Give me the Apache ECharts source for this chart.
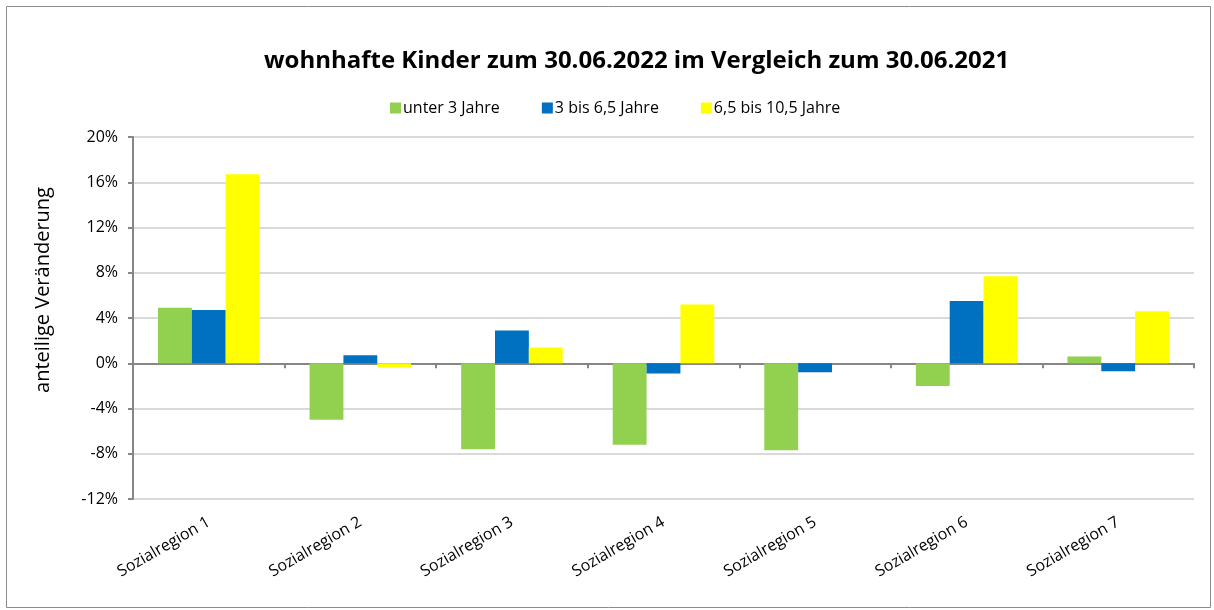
<!DOCTYPE html>
<html>
<head>
<meta charset="utf-8">
<script src="https://cdn.jsdelivr.net/npm/echarts@6/dist/echarts.min.js"></script>
<style>
html,body{margin:0;padding:0;background:#fff;}
#c{width:1214px;height:610px;}
</style>
</head>
<body>
<div id="c"></div>
<script>
const categories = ['Sozialregion 1','Sozialregion 2','Sozialregion 3','Sozialregion 4','Sozialregion 5','Sozialregion 6','Sozialregion 7'];
const seriesNames = ['unter 3 Jahre','3 bis 6,5 Jahre','6,5 bis 10,5 Jahre'];
const under3 = [4.9, -5.0, -7.6, -7.2, -7.7, -2.0, 0.6];
const from3to65 = [4.7, 0.7, 2.9, -0.9, -0.8, 5.5, -0.7];
const from65to105 = [16.7, -0.35, 1.4, 5.2, 0, 7.7, 4.6];
const titleText = 'wohnhafte Kinder zum 30.06.2022 im Vergleich zum 30.06.2021';
const yAxisName = 'anteilige Veränderung';
const colors = ['#92d050','#0070c0','#ffff00'];
const fontFamily = '"Open Sans", "Noto Sans", sans-serif';

const chart = echarts.init(document.getElementById('c'), null, {renderer:'canvas'});
const values = [under3, from3to65, from65to105];
chart.setOption({
  animation:false,
  textStyle:{fontFamily:fontFamily},
  graphic:[{
    type:'rect', silent:true,
    shape:{x:6.5,y:6.5,width:1204,height:601},
    style:{fill:null, stroke:'#8c8c8c', lineWidth:1}
  },{
    type:'text', silent:true,
    x:43, y:290, rotation:Math.PI/2,
    style:{text:yAxisName, fontSize:20, fill:'#000', fontFamily:fontFamily,
           textAlign:'center', textVerticalAlign:'middle'}
  }],
  title:{
    text:titleText,
    left:259, top:44,
    textStyle:{fontFamily:fontFamily, fontSize:24, fontWeight:'bold', color:'#000'}
  },
  legend:{
    top:95, left:385,
    itemWidth:11, itemHeight:11, itemGap:42,
    icon:'rect',
    textStyle:{fontFamily:fontFamily, fontSize:16, color:'#000', padding:[0,0,0,-3]},
    data:seriesNames
  },
  grid:{left:133, right:20, top:137, bottom:111, containLabel:false},
  xAxis:[{
    type:'category', data:categories, position:'bottom',
    axisLine:{show:false, onZero:false},
    axisTick:{show:false},
    axisLabel:{rotate:30, fontSize:16, color:'#000', margin:22, fontFamily:fontFamily}
  },{
    type:'category', data:categories, position:'bottom',
    axisLine:{show:true, onZero:true, lineStyle:{color:'#868686', width:2}},
    axisTick:{show:true, length:5, lineStyle:{color:'#868686', width:2}},
    axisLabel:{show:false}
  }],
  yAxis:{
    type:'value', min:-12, max:20, interval:4,
    axisLine:{show:true, lineStyle:{color:'#868686', width:2}},
    axisTick:{show:true, inside:false, length:5, lineStyle:{color:'#868686', width:2}},
    axisLabel:{formatter:'{value}%', fontSize:16, color:'#000', margin:15, fontFamily:fontFamily},
    splitLine:{show:true, lineStyle:{color:'#d9d9d9', width:2}}
  },
  series: seriesNames.map((n,i)=>({
    name:n, type:'bar', xAxisIndex:0, data:values[i],
    barGap:'0%', barCategoryGap:'33%',
    itemStyle:{color:colors[i]},
    z: 1
  }))
});
</script>
</body>
</html>
